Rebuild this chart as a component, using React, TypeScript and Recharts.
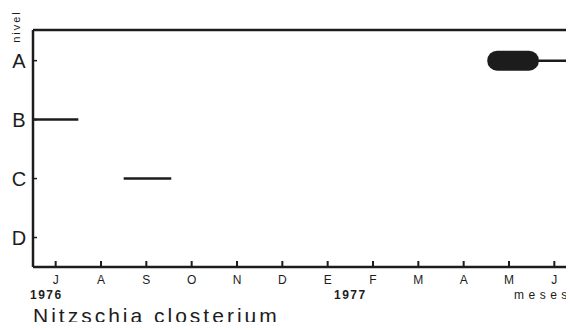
import { LineChart, Line, XAxis, YAxis, ReferenceLine } from "recharts"

// months Jul 1976 .. Jun 1977 (spanish initials)
const months = ["J", "A", "S", "O", "N", "D", "E", "F", "M", "A", "M", "J"]
const monthTicks = [0, 1, 2, 3, 4, 5, 6, 7, 8, 9, 10, 11]
const levels = ["", "D", "C", "B", "A"]
const levelTicks = [1, 2, 3, 4]
const levelMax = 4.52

// presence segments: m = month index, v = level
const segB = [{ m: -0.5, v: 3 }, { m: 0.5, v: 3 }]
const segC = [{ m: 1.5, v: 2 }, { m: 2.55, v: 2 }]
const blobA = [{ m: 9.74, v: 4 }, { m: 10.44, v: 4 }]
const tailA = [{ m: 10.6, v: 4 }, { m: 11.5, v: 4 }]

const ink = "#1c1c1c"
const font = "'Liberation Sans', Arial, sans-serif"

function MonthTick(props: any) {
  const { x, y, payload } = props
  return (
    <g>
      <path d={`M${x},${y - 1} L${x},${y - 6}`} stroke={ink} strokeWidth={2} fill="none" />
      <text x={x} y={y + 17} textAnchor="middle" fontSize={12} fill={ink} fontFamily={font}>
        {months[payload.value]}
      </text>
    </g>
  )
}

function LevelTick(props: any) {
  const { x, y, payload } = props
  return (
    <g>
      <path d={`M${x},${y} L${x + 4},${y}`} stroke={ink} strokeWidth={1.5} fill="none" />
      <text x={x - 14} y={y + 7} textAnchor="middle" fontSize={20} fill={ink} fontFamily={font}>
        {levels[payload.value]}
      </text>
    </g>
  )
}

const txt = (extra: any) => ({
  position: "absolute" as const,
  fontFamily: font,
  color: ink,
  lineHeight: 1,
  whiteSpace: "nowrap" as const,
  ...extra,
})

export default function App() {
  return (
    <div style={{ margin: -8, width: 574, height: 330, overflow: "hidden", position: "relative", background: "#fff" }}>
      <LineChart width={600} height={330} margin={{ top: 30, right: 23, bottom: 33, left: 0 }}>
        <XAxis
          type="number"
          dataKey="m"
          domain={[-0.5, 11.5]}
          ticks={monthTicks}
          allowDataOverflow
          height={30}
          tickSize={0}
          tickMargin={0}
          tickLine={false}
          tick={<MonthTick />}
          axisLine={{ stroke: ink, strokeWidth: 2.5 }}
        />
        <YAxis
          type="number"
          domain={[0.5, levelMax]}
          ticks={levelTicks}
          allowDataOverflow
          width={33}
          tickSize={0}
          tickMargin={0}
          tickLine={false}
          tick={<LevelTick />}
          axisLine={{ stroke: ink, strokeWidth: 2.5 }}
        />
        <ReferenceLine y={levelMax} stroke={ink} strokeWidth={2.5} />
        <Line data={segB} dataKey="v" stroke={ink} strokeWidth={2.5} dot={false} isAnimationActive={false} />
        <Line data={segC} dataKey="v" stroke={ink} strokeWidth={2.5} dot={false} isAnimationActive={false} />
        <Line data={blobA} dataKey="v" stroke={ink} strokeWidth={20} strokeLinecap="round" dot={false} isAnimationActive={false} />
        <Line data={tailA} dataKey="v" stroke={ink} strokeWidth={2.5} dot={false} isAnimationActive={false} />
      </LineChart>
      <div style={txt({ left: 0, top: 21, fontSize: 11, letterSpacing: 2, transform: "rotate(-90deg)", transformOrigin: "center" })}>nivel</div>
      <div style={txt({ left: 30, top: 289, fontSize: 12, fontWeight: "bold", letterSpacing: 1.5 })}>1976</div>
      <div style={txt({ left: 334, top: 289, fontSize: 12, fontWeight: "bold", letterSpacing: 1.5 })}>1977</div>
      <div style={txt({ left: 514, top: 289, fontSize: 12, letterSpacing: 4.5 })}>meses</div>
      <div style={txt({ left: 33, top: 305, fontSize: 21, letterSpacing: 3 })}>Nitzschia closterium</div>
    </div>
  )
}
